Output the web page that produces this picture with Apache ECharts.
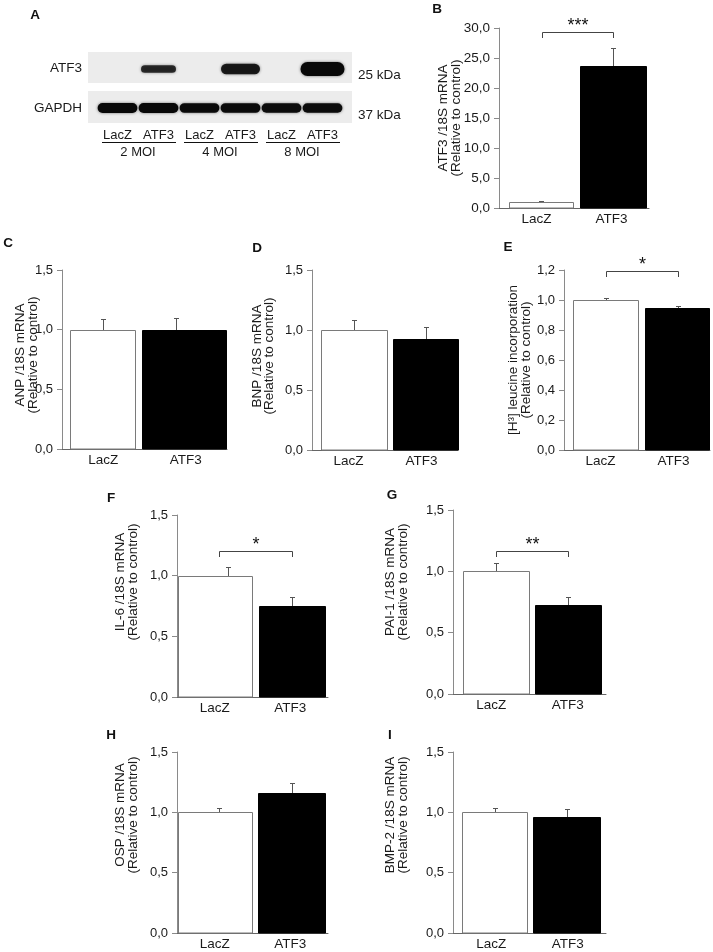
<!DOCTYPE html>
<html><head><meta charset="utf-8">
<script src="https://cdn.jsdelivr.net/npm/echarts@6/dist/echarts.min.js"></script>
<style>html,body{margin:0;padding:0;background:#fff}#c{width:713px;height:952px}</style>
</head><body><div id="c"></div><script>
// ---------- data ----------
const categories = ['LacZ', 'ATF3'];
const atf3Mean = [1.0, 23.7];     const atf3Sem = [0.1, 3.0];
const anpMean = [1.0, 1.0];       const anpSem = [0.09, 0.10];
const bnpMean = [1.0, 0.925];     const bnpSem = [0.083, 0.10];
const leucineMean = [1.0, 0.949]; const leucineSem = [0.015, 0.013];
const il6Mean = [1.0, 0.752];     const il6Sem = [0.075, 0.075];
const pai1Mean = [1.0, 0.726];    const pai1Sem = [0.065, 0.067];
const ospMean = [1.0, 1.158];     const ospSem = [0.04, 0.082];
const bmp2Mean = [1.0, 0.964];    const bmp2Sem = [0.04, 0.061];
const sigB = '***', sigE = '*', sigF = '*', sigG = '**';
const blotLanes = ['LacZ', 'ATF3', 'LacZ', 'ATF3', 'LacZ', 'ATF3'];
const blotGroups = ['2 MOI', '4 MOI', '8 MOI'];
const blotRows = ['ATF3', 'GAPDH'];
const blotSizes = ['25 kDa', '37 kDa'];
const atf3Band = [0, 0.55, 0, 0.75, 0, 1.0];
const gapdhBand = [1, 1, 0.97, 0.97, 0.94, 0.94];

// ---------- layout / style ----------
const FONT = "'Liberation Sans', Arial, sans-serif";
const TXT = '#1a1a1a';
const panels = [
  {letter:'B', mean:atf3Mean, sem:atf3Sem, max:30, interval:5, names:['ATF3 /18S mRNA','(Relative to control)'],
   grid:{left:499, top:28, width:150, height:180}, nameX:[443,456], nameY:118, letterPos:[437,9], tickFont:13.5,
   barDx:[4.5,1.5], barW:[64,66], errDx:[4.5,1.5], sig:sigB, bracketAt:29.33, bracketDx:[5.5,1.5]},
  {letter:'C', mean:anpMean, sem:anpSem, max:1.5, interval:0.5, names:['ANP /18S mRNA','(Relative to control)'],
   grid:{left:62, top:270, width:165, height:179}, nameX:[20,33], nameY:355, letterPos:[8,243],
   barDx:[-0.75,-1.75], barW:[65,84], errDx:[-0.75,-9.75]},
  {letter:'D', mean:bnpMean, sem:bnpSem, max:1.5, interval:0.5, names:['BNP /18S mRNA','(Relative to control)'],
   grid:{left:312, top:270, width:146, height:180}, nameX:[257,269], nameY:356, letterPos:[257,248],
   barDx:[5.5,4], barW:[66,65], errDx:[5.5,4]},
  {letter:'E', mean:leucineMean, sem:leucineSem, max:1.2, interval:0.2, names:['[H\u00B3] leucine incorporation','(Relative to control)'],
   grid:{left:564, top:270, width:146, height:180}, nameX:[513,526], nameY:360, letterPos:[508,247],
   barDx:[5,3.5], barW:[65,64], errDx:[5,4], sig:sigE, bracketAt:1.193, bracketDx:[5.5,4.5]},
  {letter:'F', mean:il6Mean, sem:il6Sem, max:1.5, interval:0.5, names:['IL-6 /18S mRNA','(Relative to control)'],
   grid:{left:177, top:515, width:151, height:182}, nameX:[120,133], nameY:582, letterPos:[111,498],
   barDx:[0.25,1.75], barW:[74,66], errDx:[13,1.75], sig:sigF, bracketAt:1.203, bracketDx:[4.25,1.75]},
  {letter:'G', mean:pai1Mean, sem:pai1Sem, max:1.5, interval:0.5, names:['PAI-1 /18S mRNA','(Relative to control)'],
   grid:{left:453, top:510, width:153, height:184}, nameX:[390,403], nameY:582, letterPos:[392,495],
   barDx:[4.75,0.25], barW:[66,66], errDx:[4.75,0.5], sig:sigG, bracketAt:1.168, bracketDx:[4.75,0.25]},
  {letter:'H', mean:ospMean, sem:ospSem, max:1.5, interval:0.5, names:['OSP /18S mRNA','(Relative to control)'],
   grid:{left:177, top:752, width:151, height:181}, nameX:[120,133], nameY:815, letterPos:[111,735],
   barDx:[0.25,1.25], barW:[74,67], errDx:[4.5,1.4]},
  {letter:'I', mean:bmp2Mean, sem:bmp2Sem, max:1.5, interval:0.5, names:['BMP-2 /18S mRNA','(Relative to control)'],
   grid:{left:453, top:752, width:153, height:181}, nameX:[390,403], nameY:815, letterPos:[390,735],
   barDx:[3.25,-1.25], barW:[65,67], errDx:[3.75,-1]}
];
const blotGrid = {left:97, top:48, width:246, height:80};

const px = v => Math.round(v) + 0.5;
const fmt = v => v.toFixed(1).replace('.', ',');

const grids = [Object.assign({}, blotGrid)];
const xAxes = [
  {type:'category', gridIndex:0, data:blotLanes, position:'bottom', axisLine:{show:false}, axisTick:{show:false},
   axisLabel:{margin:1, fontSize:13, color:TXT, fontFamily:FONT}},
  {type:'category', gridIndex:0, data:blotGroups, position:'bottom', offset:17, axisLine:{show:false}, axisTick:{show:false},
   axisLabel:{margin:1, fontSize:13, color:TXT, fontFamily:FONT}}
];
const yAxes = [
  {type:'category', gridIndex:0, data:blotRows, inverse:true, axisLine:{show:false}, axisTick:{show:false},
   axisLabel:{margin:15, fontSize:13.5, color:TXT, fontFamily:FONT}},
  {type:'category', gridIndex:0, data:blotSizes, inverse:true, position:'right', axisLine:{show:false}, axisTick:{show:false},
   axisLabel:{margin:15, fontSize:13.5, color:TXT, fontFamily:FONT, verticalAlign:'top'}}
];
const series = [];
const graphics = [
  {type:'rect', z:0, shape:{x:88, y:52, width:264, height:31}, style:{fill:'#ececec'}},
  {type:'rect', z:0, shape:{x:88, y:91, width:264, height:32}, style:{fill:'#ececec'}}
];

// blot bands
const bandData = [];
atf3Band.forEach((s, i) => bandData.push([i, 0, s]));
gapdhBand.forEach((s, i) => bandData.push([i, 1, s]));
series.push({
  type:'custom', xAxisIndex:0, yAxisIndex:0, data:bandData, z:5, silent:true,
  renderItem:(params, api) => {
    const lane = api.value(0), row = api.value(1), s = api.value(2);
    if (!(s > 0)) return null;
    const c = api.coord([lane, row]);
    const laneW = api.size([1, 0])[0];
    let w, h, dy;
    if (row === 0) { w = 24 + 20 * s; h = 14 * s; dy = 1; }
    else { w = laneW * 0.97; h = 10 * s; dy = 0; }
    return {type:'rect', shape:{x:c[0] - w / 2, y:c[1] + dy - h / 2, width:w, height:h, r:h / 2},
      style:{fill:'rgba(8,8,8,' + (0.55 + 0.45 * s) + ')', shadowBlur:3, shadowColor:'rgba(0,0,0,0.55)'}};
  }
});
// underlines for MOI groups
const laneW = blotGrid.width / blotLanes.length;
blotGroups.forEach((g, gi) => {
  const x1 = blotGrid.left + laneW * 2 * gi + 5, x2 = blotGrid.left + laneW * 2 * (gi + 1) - 3;
  graphics.push({type:'line', shape:{x1:x1, y1:142.5, x2:x2, y2:142.5}, style:{stroke:'#111', lineWidth:1}});
});
graphics.push({type:'text', x:35, y:15, style:{text:'A', fontSize:13.5, fontWeight:'bold', fontFamily:FONT, fill:'#111',
  align:'center', verticalAlign:'middle', textAlign:'center', textVerticalAlign:'middle'}});

panels.forEach((P, p) => {
  const gi = p + 1;      // grid index
  const ai = p + 2;      // axis index (blot uses two x and two y axes)
  grids.push(P.grid);
  xAxes.push({type:'category', gridIndex:gi, data:categories,
    axisLine:{lineStyle:{color:'#666', width:1}}, axisTick:{show:false},
    axisLabel:{margin:4, fontSize:13.5, color:TXT, fontFamily:FONT}});
  yAxes.push({type:'value', gridIndex:gi, min:0, max:P.max, interval:P.interval,
    axisLine:{show:true, lineStyle:{color:'#8a8a8a', width:1}},
    axisTick:{show:true, length:5, lineStyle:{color:'#8a8a8a'}},
    splitLine:{show:false},
    axisLabel:{margin:9, fontSize:P.tickFont || 13, color:TXT, fontFamily:FONT, formatter:fmt}});
  const data = P.mean.map((m, i) => [i, m, P.sem[i]]);
  series.push({
    type:'custom', xAxisIndex:ai, yAxisIndex:ai, data:data, z:4, silent:true,
    renderItem:(params, api) => {
      const i = api.value(0), v = api.value(1), s = api.value(2);
      const top = api.coord([i, v]), base = api.coord([i, 0]), err = api.coord([i, v + s]);
      const w = P.barW[i];
      const x0 = Math.round(top[0] + P.barDx[i] - w / 2) + 0.5;
      const ex = px(top[0] + P.errDx[i]);
      const ctrl = i === 0;
      const yt = px(top[1]);
      return {type:'group', children:[
        {type:'line', shape:{x1:ex, y1:yt, x2:ex, y2:px(err[1])}, style:{stroke:'#555', lineWidth:1}},
        {type:'line', shape:{x1:ex - 2.5, y1:px(err[1]), x2:ex + 2.5, y2:px(err[1])}, style:{stroke:'#555', lineWidth:1}},
        {type:'rect', shape:{x:x0, y:yt, width:w, height:Math.round(base[1]) - yt},
          style:{fill: ctrl ? '#fff' : '#000', stroke: ctrl ? '#7a7a7a' : '#000', lineWidth:1}}
      ]};
    }
  });
  if (P.sig) {
    series.push({
      type:'custom', xAxisIndex:ai, yAxisIndex:ai, data:[[0, P.bracketAt]], z:6, silent:true, clip:false,
      renderItem:(params, api) => {
        const a = api.coord([0, api.value(1)]), b = api.coord([1, api.value(1)]);
        const xa = px(a[0] + P.bracketDx[0]), xb = px(b[0] + P.bracketDx[1]), y = px(a[1]);
        return {type:'group', children:[
          {type:'polyline', shape:{points:[[xa, y + 5.5], [xa, y], [xb, y], [xb, y + 5.5]]}, style:{stroke:'#444', lineWidth:1, fill:null}},
          {type:'text', x:(xa + xb) / 2, y:y - 6.5, style:{text:P.sig, fontSize:18, fontFamily:FONT, fill:'#111',
            align:'center', verticalAlign:'middle', textAlign:'center', textVerticalAlign:'middle'}}
        ]};
      }
    });
  }
  P.names.forEach((n, k) => {
    graphics.push({type:'text', x:P.nameX[k], y:P.nameY, rotation:Math.PI / 2,
      style:{text:n, fontSize:13.5, fontFamily:FONT, fill:TXT,
        align:'center', verticalAlign:'middle', textAlign:'center', textVerticalAlign:'middle'}});
  });
  graphics.push({type:'text', x:P.letterPos[0], y:P.letterPos[1],
    style:{text:P.letter, fontSize:13.5, fontWeight:'bold', fontFamily:FONT, fill:'#111',
      align:'center', verticalAlign:'middle', textAlign:'center', textVerticalAlign:'middle'}});
});

const chart = echarts.init(document.getElementById('c'), null, {renderer:'canvas'});
chart.setOption({
  animation:false,
  backgroundColor:'#fff',
  grid:grids, xAxis:xAxes, yAxis:yAxes, series:series,
  graphic:{elements:graphics}
});
</script></body></html>
